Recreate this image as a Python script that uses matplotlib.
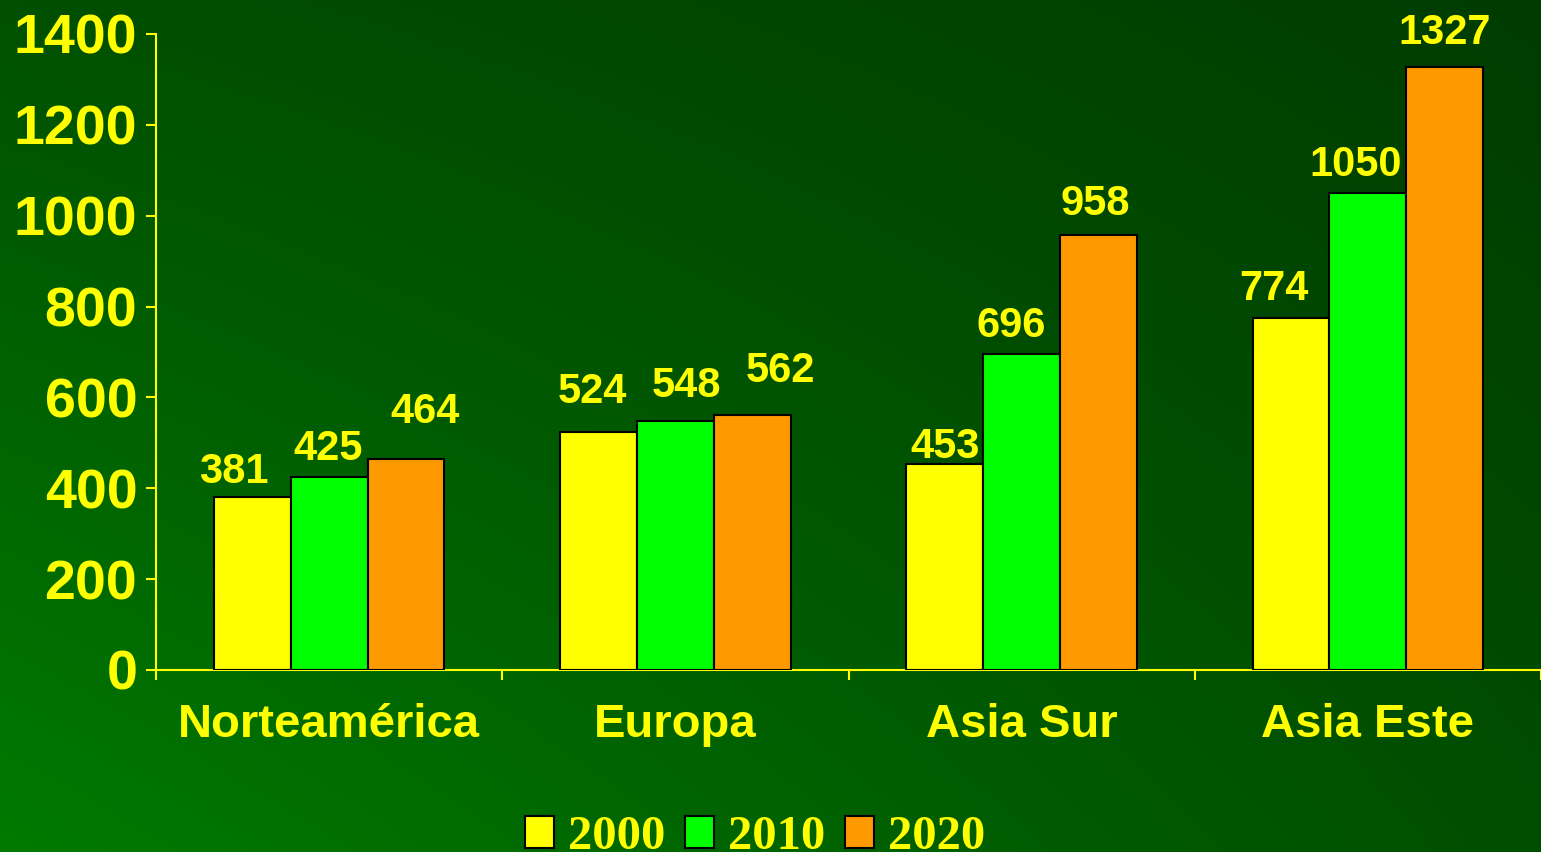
import matplotlib
matplotlib.use("Agg")
import matplotlib.pyplot as plt
import numpy as np
from matplotlib.font_manager import FontProperties
from matplotlib.patches import Patch

# chart values
regions = ["Norteamérica", "Europa", "Asia Sur", "Asia Este"]
years = ["2000", "2010", "2020"]
v2000 = [381, 524, 453, 774]
v2010 = [425, 548, 696, 1050]
v2020 = [464, 562, 958, 1327]
yticks = [0, 200, 400, 600, 800, 1000, 1200, 1400]

# styling
YELLOW = "#ffff00"
bar_colors = ["#ffff00", "#00ff00", "#ff9900"]
# value-label nudges in pixels, as the labels sit on the original slide
label_dx = [[-18, -6, 0, -17], [-1, 11, -10, -12], [19, 28, -3, 0]]
label_gap = [[14, 29, 6, 18], [17, 24, 17, 17], [36, 33, 20, 23]]
PX = 0.72  # points per pixel at dpi 100

plt.rcParams["font.family"] = ["Liberation Sans", "DejaVu Sans"]
plt.rcParams["font.weight"] = "bold"

fig = plt.figure(figsize=(15.41, 8.52), dpi=100)

# green gradient background (bilinear between the four corners)
tl, tr, bl, br = 80, 60, 122, 78
xx = np.linspace(0, 1, 400)[None, :]
yy = np.linspace(0, 1, 200)[:, None]
top = tl + (tr - tl) * xx
bot = bl + (br - bl) * xx
g = (top + (bot - top) * yy) / 255.0
bg = np.zeros((200, 400, 3))
bg[..., 1] = g
bax = fig.add_axes([0, 0, 1, 1], zorder=-1)
bax.imshow(bg, extent=[0, 1, 0, 1], aspect="auto", origin="upper")
bax.axis("off")

ax = fig.add_axes([156 / 1541, 182 / 852, 1 - 156 / 1541, (670 - 34) / 852])
ax.set_facecolor("none")

x = np.arange(len(regions))
w = 0.222
series = [v2000, v2010, v2020]
for j, (vals, color) in enumerate(zip(series, bar_colors)):
    xs = x + (j - 1) * w
    ax.bar(xs, vals, w, color=color, edgecolor="black", linewidth=1.5, zorder=3)
    for i, v in enumerate(vals):
        ax.annotate(str(v), xy=(xs[i], v),
                    xytext=(label_dx[j][i] * PX, label_gap[j][i] * PX),
                    textcoords="offset points", ha="center", va="baseline",
                    color=YELLOW, fontsize=30, fontweight="bold")

ax.set_xlim(-0.5, len(regions) - 0.5)
ax.set_ylim(0, 1400)
ax.set_yticks(yticks)
ax.set_xticks(np.arange(len(regions) + 1) - 0.5)
ax.set_xticklabels([])

for i, name in enumerate(regions):
    ax.annotate(name, xy=(i, 0), xycoords=("data", "axes fraction"),
                xytext=(0, -67 * PX), textcoords="offset points",
                ha="center", va="baseline", color=YELLOW,
                fontsize=34, fontweight="bold")

for side in ["top", "right"]:
    ax.spines[side].set_visible(False)
for side in ["left", "bottom"]:
    ax.spines[side].set_color(YELLOW)
    ax.spines[side].set_linewidth(1.5)

ax.tick_params(axis="y", direction="out", length=7, width=1.5, color=YELLOW,
               labelcolor=YELLOW, labelsize=40, pad=6.5)
ax.tick_params(axis="x", direction="out", length=7, width=1.5, color=YELLOW)
for lbl in ax.get_yticklabels():
    lbl.set_fontweight("bold")

handles = [Patch(facecolor=c, edgecolor="black", linewidth=1.5, label=y)
           for c, y in zip(bar_colors, years)]
fig.legend(handles=handles, loc="center", bbox_to_anchor=(755 / 1541, 1 - 837 / 852),
           ncol=3, frameon=False, labelcolor=YELLOW,
           prop=FontProperties(family="Liberation Serif", weight="bold", size=35),
           handlelength=0.6, handleheight=0.65, handletextpad=0.27,
           columnspacing=0.42, borderpad=0, borderaxespad=0)

fig.savefig("out.png", dpi=100)
